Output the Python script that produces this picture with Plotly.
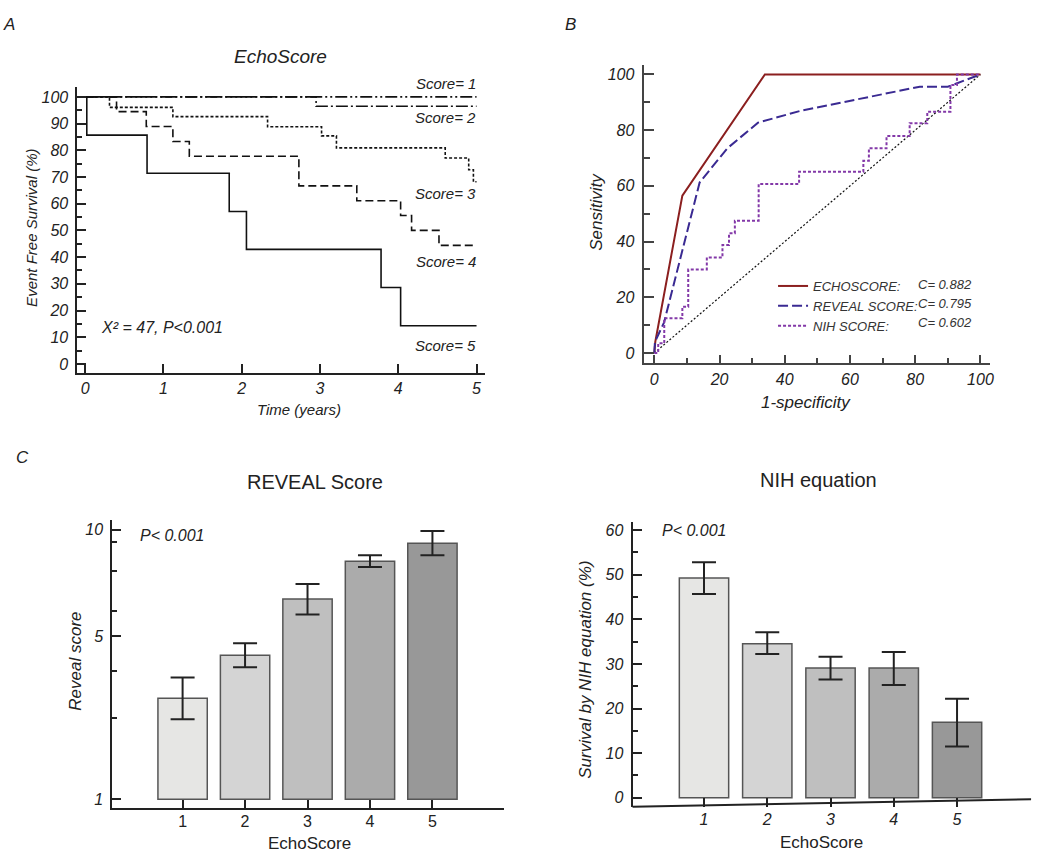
import plotly.graph_objects as go

FONT = "Liberation Sans, Arial, sans-serif"

# ---------------- Panel A: Kaplan-Meier (EchoScore) ----------------
km_t_score1 = [0, 5]
km_s_score1 = [100, 100]
km_t_score2 = [0, 2.95, 5]
km_s_score2 = [100, 96.5, 96.5]
km_t_score3 = [0, 0.31, 1.12, 2.33, 3.02, 3.21, 4.6, 4.9, 4.96, 5]
km_s_score3 = [100, 96.1, 92.6, 88.8, 85.4, 80.9, 77.1, 72.7, 68.2, 68.2]
km_t_score4 = [0, 0.40, 0.78, 1.12, 1.33, 2.73, 3.47, 4.03, 4.17, 4.52, 5]
km_s_score4 = [100, 94.5, 88.9, 83.3, 77.8, 66.7, 61.1, 55.6, 50.0, 44.4, 44.4]
km_t_score5 = [0, 0.02, 0.79, 1.84, 2.06, 3.78, 4.03, 5]
km_s_score5 = [100, 85.7, 71.4, 57.1, 42.9, 28.6, 14.3, 14.3]
score_labels = ["Score= 1", "Score= 2", "Score= 3", "Score= 4", "Score= 5"]

# ---------------- Panel B: ROC curves ----------------
echo_fpr = [0, 0.3, 8.6, 33.9, 100]
echo_tpr = [0, 4, 56.5, 100, 100]
reveal_fpr = [0, 0.2, 3, 13.9, 22.4, 31.8, 45, 66.1, 81.4, 90, 100]
reveal_tpr = [0, 4, 11, 61.2, 73.5, 82.7, 87, 92, 95.6, 95.6, 100]
nih_fpr = [0, 1.2, 3.05, 8.6, 10.4, 16.1, 20.9, 22.9, 24.7, 32, 44.4, 64.1, 65.8,
           71.2, 78.3, 83.7, 90.8, 92.8, 100]
nih_tpr = [0, 3.5, 12.5, 16.6, 30, 34.3, 38.8, 43, 47.5, 60.7, 65.1, 69, 73.5,
           77.9, 82.5, 86.6, 96.2, 100, 100]
diag = [0, 100]
roc_names = ["ECHOSCORE:", "REVEAL SCORE:", "NIH SCORE:"]
roc_auc = ["C= 0.882", "C= 0.795", "C= 0.602"]

# ---------------- Panel C: bar charts ----------------
echo_cats = [1, 2, 3, 4, 5]
reveal_mean = [2.37, 3.42, 5.53, 7.63, 8.90]
reveal_upper = [2.83, 3.79, 6.29, 8.03, 9.89]
reveal_lower = [1.98, 3.09, 4.84, 7.27, 8.03]
nih_mean = [49.3, 34.5, 29.1, 29.1, 16.9]
nih_upper = [52.8, 37.1, 31.6, 32.7, 22.2]
nih_lower = [45.7, 32.2, 26.5, 25.3, 11.5]
bar_colors = ["#E6E6E4", "#D4D4D4", "#BFBFBF", "#ABABAB", "#989898"]

fig = go.Figure()

# Panel A traces
km_sets = [
    (km_t_score1, km_s_score1, "12px,3px,2px,3px,2px,3px"),
    (km_t_score2, km_s_score2, "12px,3px,2px,3px"),
    (km_t_score3, km_s_score3, "3px,2px"),
    (km_t_score4, km_s_score4, "8px,4px"),
    (km_t_score5, km_s_score5, "solid"),
]
for (t, s, dash), name in zip(km_sets, score_labels):
    fig.add_trace(go.Scatter(x=t, y=s, mode="lines", line_shape="hv",
                             line=dict(color="#111", width=1.6, dash=dash),
                             name=name, showlegend=False, xaxis="x", yaxis="y"))

# Panel B traces
fig.add_trace(go.Scatter(x=diag, y=diag, mode="lines",
                         line=dict(color="#111", width=1.2, dash="2px,2px"),
                         showlegend=False, xaxis="x2", yaxis="y2"))
fig.add_trace(go.Scatter(x=echo_fpr, y=echo_tpr, mode="lines", name=roc_names[0],
                         line=dict(color="#8B1F1F", width=2),
                         xaxis="x2", yaxis="y2", legend="legend"))
fig.add_trace(go.Scatter(x=reveal_fpr, y=reveal_tpr, mode="lines", name=roc_names[1],
                         line=dict(color="#3A2A92", width=2, dash="10px,4px"),
                         xaxis="x2", yaxis="y2", legend="legend"))
fig.add_trace(go.Scatter(x=nih_fpr, y=nih_tpr, mode="lines", name=roc_names[2],
                         line_shape="hv",
                         line=dict(color="#8338A8", width=2, dash="3px,2px"),
                         xaxis="x2", yaxis="y2", legend="legend"))

# Panel C left (REVEAL)
fig.add_trace(go.Bar(x=echo_cats, y=[m - 1 for m in reveal_mean], base=1,
                     width=0.79, marker=dict(color=bar_colors, line=dict(color="#555", width=1.5)),
                     showlegend=False, xaxis="x3", yaxis="y3"))
fig.add_trace(go.Scatter(x=echo_cats, y=reveal_mean, mode="markers",
                         marker=dict(size=1, color="rgba(0,0,0,0)"),
                         error_y=dict(type="data", symmetric=False,
                                      array=[u - m for u, m in zip(reveal_upper, reveal_mean)],
                                      arrayminus=[m - l for m, l in zip(reveal_mean, reveal_lower)],
                                      color="#222", thickness=2, width=12),
                         showlegend=False, xaxis="x3", yaxis="y3"))

# Panel C right (NIH)
fig.add_trace(go.Bar(x=echo_cats, y=nih_mean, width=0.78,
                     marker=dict(color=bar_colors, line=dict(color="#555", width=1.5)),
                     showlegend=False, xaxis="x4", yaxis="y4"))
fig.add_trace(go.Scatter(x=echo_cats, y=nih_mean, mode="markers",
                         marker=dict(size=1, color="rgba(0,0,0,0)"),
                         error_y=dict(type="data", symmetric=False,
                                      array=[u - m for u, m in zip(nih_upper, nih_mean)],
                                      arrayminus=[m - l for m, l in zip(nih_mean, nih_lower)],
                                      color="#222", thickness=2, width=12),
                         showlegend=False, xaxis="x4", yaxis="y4"))

W, H = 1050, 856
def px(x):
    return x / W
def py(y):
    return 1 - y / H

italic_tick = dict(family=FONT, size=16, color="#222", style="italic")
plain_tick = dict(family=FONT, size=16, color="#222")

def axis_common(color="#222", standoff=4):
    return dict(showgrid=False, zeroline=False, showline=True, linecolor=color,
                linewidth=2, ticks="inside", tickcolor=color, tickwidth=2,
                ticklabelstandoff=standoff)

fig.update_layout(
    width=W, height=H, margin=dict(l=0, r=0, t=0, b=0),
    paper_bgcolor="white", plot_bgcolor="white",
    font=dict(family=FONT, color="#222"),
    xaxis=dict(**axis_common(standoff=0), domain=[px(77.7), px(487)], range=[-0.1, 5.11],
               tickvals=[0, 1, 2, 3, 4, 5], ticklen=9, tickfont=italic_tick,
               anchor="y"),
    yaxis=dict(**axis_common(), domain=[py(373), py(87.3)], range=[-3.4, 103.6],
               tickvals=list(range(0, 101, 10)), ticklen=9, tickfont=italic_tick,
               minor=dict(ticks="inside", ticklen=5, dtick=5, tick0=0,
                          tickcolor="#222", tickwidth=2),
               anchor="x"),
    xaxis2=dict(**axis_common("#444", standoff=0), domain=[px(646), px(994)], range=[-3.3, 103],
                tickvals=list(range(0, 101, 20)), ticklen=8, tickfont=italic_tick,
                minor=dict(ticks="inside", ticklen=5, dtick=10, tick0=0,
                           tickcolor="#444", tickwidth=2),
                anchor="y2"),
    yaxis2=dict(**axis_common("#444"), domain=[py(363.3), py(65)], range=[-3.7, 103.4],
                tickvals=list(range(0, 101, 20)), ticklen=10, tickfont=italic_tick,
                minor=dict(ticks="inside", ticklen=6, dtick=10, tick0=0,
                           tickcolor="#444", tickwidth=2),
                anchor="x2"),
    xaxis3=dict(**axis_common(standoff=-2), domain=[px(112.7), px(506)], range=[-0.126, 6.147],
                tickvals=echo_cats, ticklen=8, tickfont=plain_tick, anchor="y3"),
    yaxis3=dict(**axis_common(), type="log", domain=[py(807.7), py(520)],
                range=[-0.0315, 1.0358],
                tickvals=[1, 4.03, 10], ticktext=["1", "5", "10"], ticklen=9,
                tickfont=italic_tick,
                minor=dict(ticks="inside", ticklen=5, tickmode="array",
                           tickvals=[2, 3, 5, 7, 9], tickcolor="#222", tickwidth=2),
                anchor="x3"),
    xaxis4=dict(**axis_common(standoff=1), domain=[px(635), px(1035)], range=[-0.129, 6.17],
                tickvals=echo_cats, ticklen=9, tickfont=italic_tick, anchor="y4"),
    yaxis4=dict(**axis_common(), domain=[py(806.7), py(521.7)], range=[-2.02, 61.9],
                tickvals=list(range(0, 61, 10)), ticklen=9, tickfont=italic_tick,
                minor=dict(ticks="inside", ticklen=5, dtick=5, tick0=0,
                           tickcolor="#222", tickwidth=2),
                anchor="x4"),
    legend=dict(x=px(776), y=py(271), xanchor="left", yanchor="top",
                bgcolor="rgba(0,0,0,0)", itemwidth=30, tracegroupgap=0,
                font=dict(family=FONT, size=13, color="#333", style="italic")),
)
# the slanted baseline of panel C right
fig.update_xaxes(showline=False, selector=dict(anchor="y4"))
fig.add_shape(type="line", xref="paper", yref="paper",
              x0=px(635), y0=py(806.7), x1=px(1035), y1=py(799.3),
              line=dict(color="#222", width=2))

def ann(text, x, y, size, italic=True, xanchor="center", angle=0, color="#222"):
    f = dict(family=FONT, size=size, color=color)
    if italic:
        f["style"] = "italic"
    fig.add_annotation(text=text, x=px(x), y=py(y), xref="paper", yref="paper",
                       xanchor=xanchor, yanchor="middle", showarrow=False,
                       textangle=angle, font=f)

# panel letters
ann("A", 9, 24, 17)
ann("B", 573, 24, 17)
ann("C", 23, 457, 17)

# Panel A text
ann("EchoScore", 282, 56, 19)
ann("Event Free Survival (%)", 32, 228, 15, angle=-90)
ann("Time (years)", 300, 409, 15)
score_label_y = [83, 118, 194, 261, 345]
for lbl, yy in zip(score_labels, score_label_y):
    ann(lbl, 480, yy, 15, xanchor="right")
ann("Χ² = 47, P<0.001", 99, 327, 16, xanchor="left")

# Panel B text
ann("Sensitivity", 599, 212, 17, angle=-90)
ann("1-specificity", 809, 402, 17)
auc_y = [284, 303.5, 323]
for txt, yy in zip(roc_auc, auc_y):
    ann(txt, 920, yy, 13, xanchor="left", color="#333")

# Panel C text
ann("REVEAL Score", 316, 482, 20, italic=False)
ann("Reveal score", 75, 661, 17, angle=-90)
ann("EchoScore", 311, 843, 17, italic=False)
ann("P< 0.001", 139, 535, 16, xanchor="left")
ann("NIH equation", 822, 480, 20, italic=False)
ann("Survival by NIH equation (%)", 587, 670, 17, angle=-90)
ann("EchoScore", 825, 842, 17, italic=False)
ann("P< 0.001", 663, 530, 16, xanchor="left")

fig.write_html("out.html", config={"displayModeBar": False},
               post_script="document.body.style.margin='0';document.body.style.overflow='hidden';")
